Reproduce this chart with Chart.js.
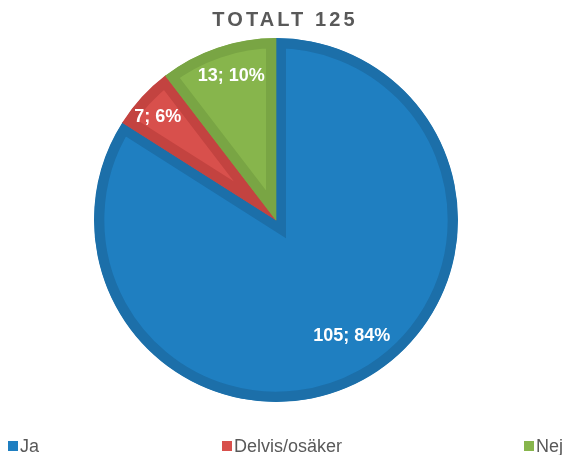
<!DOCTYPE html>
<html>
<head>
<meta charset="utf-8">
<script src="https://cdn.jsdelivr.net/npm/chart.js@4"></script>
<style>
    html, body { margin: 0; padding: 0; background: #fff; }
    #wrap { position: relative; width: 568px; height: 455px; font-family: "Liberation Sans", Arial, sans-serif; }
    #pie { position: absolute; left: 0; top: 0; }
    #title { position: absolute; left: 0; width: 568px; top: 8px; text-align: center; padding-left: 2px; box-sizing: border-box;
             font-size: 20px; font-weight: bold; color: #595959; letter-spacing: 3.1px; }
    .leg { position: absolute; top: 437px; font-size: 18px; line-height: 18px; color: #595959; white-space: nowrap; }
    .leg i { display: inline-block; width: 10px; height: 10px; margin-right: 2px; vertical-align: 1px; }
</style>
</head>
<body>
<div id="wrap">
    <canvas id="pie" width="568" height="455"></canvas>
    <div id="title">TOTALT 125</div>
    <div id="legend"></div>
</div>
<script>
var kategori = ['Ja', 'Delvis/osäker', 'Nej'];
var jumlah = [105, 7, 13];
var warna_isi = ['#1f7fc1', '#d8504c', '#87b54c'];
var warna_garis = ['#1c6fa9', '#c34340', '#79a544'];
var posisi_legend = [8, 222, 524];
// posisi label: jarak dari pusat (x radius) dan geser sudut (derajat)
var jarak_label = [0.76, 0.86, 0.83];
var geser_sudut = [-4.4, -1.5, 1.5];

const total = jumlah.reduce((a, b) => a + b, 0);

// legend manual, ditaruh di bawah seperti di excel
let html = '';
kategori.forEach((k, i) => {
    html += `<div class="leg" style="left:${posisi_legend[i]}px"><i style="background:${warna_isi[i]}"></i>${k}</div>`;
});
document.getElementById('legend').innerHTML = html;

const labelIsi = {
    id: 'labelIsi',
    afterDatasetsDraw: (chart) => {
        const ctx = chart.ctx;
        const meta = chart.getDatasetMeta(0);
        ctx.save();
        ctx.fillStyle = '#ffffff';
        ctx.font = 'bold 18px "Liberation Sans", Arial, sans-serif';
        ctx.textAlign = 'center';
        ctx.textBaseline = 'middle';
        meta.data.forEach((arc, i) => {
            const p = arc.getProps(['x', 'y', 'startAngle', 'endAngle', 'outerRadius'], true);
            const mid = (p.startAngle + p.endAngle) / 2 + geser_sudut[i] * Math.PI / 180;
            const r = p.outerRadius * jarak_label[i];
            const persen = Math.round(jumlah[i] / total * 100);
            ctx.fillText(jumlah[i] + '; ' + persen + '%', p.x + Math.cos(mid) * r, p.y + Math.sin(mid) * r);
        });
        ctx.restore();
    }
};

new Chart(document.getElementById('pie'), {
    type: 'pie',
    data: {
        labels: kategori,
        datasets: [{
            data: jumlah,
            backgroundColor: warna_isi,
            borderColor: warna_garis,
            borderWidth: 10,
            borderAlign: 'inner',
            borderJoinStyle: 'miter'
        }]
    },
    options: {
        responsive: false,
        animation: false,
        events: [],
        layout: {
            padding: { top: 38, bottom: 53, left: 0, right: 16 }
        },
        plugins: {
            legend: { display: false },
            tooltip: { enabled: false },
            title: { display: false }
        }
    },
    plugins: [labelIsi]
});
</script>
</body>
</html>
